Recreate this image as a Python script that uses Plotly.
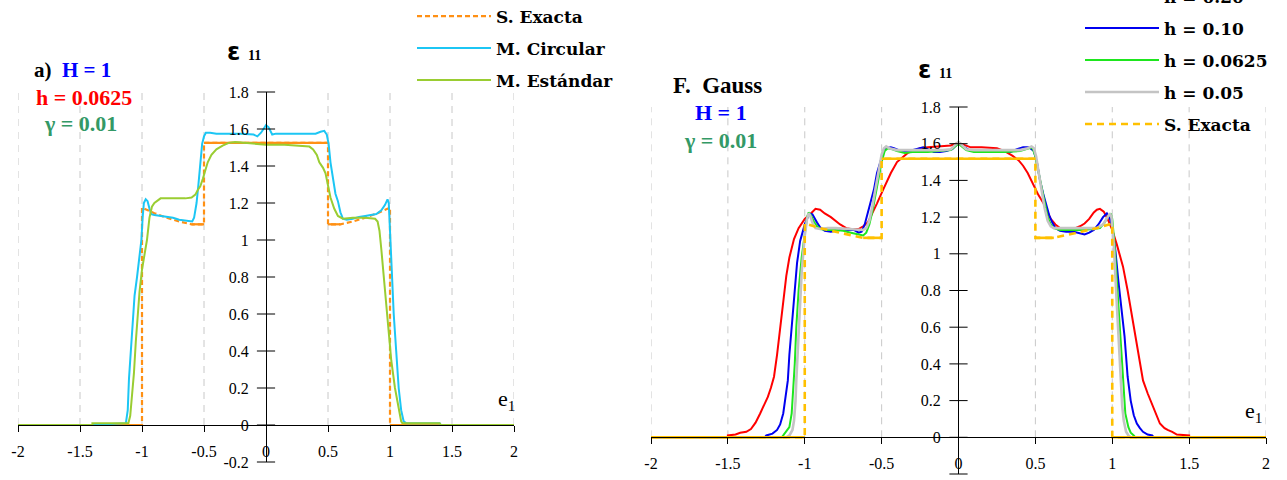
import plotly.graph_objects as go

# ---------------- data: panel a) (left) ----------------
exact_a_x = [-2, -1, -1, -0.9, -0.8, -0.7, -0.6, -0.5, -0.5, 0.5, 0.5, 0.6, 0.7, 0.8, 0.9, 1, 1, 2]
exact_a_y = [0, 0, 1.175, 1.145, 1.12, 1.10, 1.085, 1.085, 1.525, 1.525, 1.085, 1.085, 1.10, 1.12, 1.145, 1.175, 0, 0]

circ_x = [-2, -1.4, -1.13, -1.115, -1.105, -1.09, -1.075, -1.06, -1.04, -1.02, -1.005, -0.995, -0.985, -0.97,
          -0.955, -0.94, -0.925, -0.9, -0.85, -0.8, -0.75, -0.7, -0.65, -0.62, -0.595, -0.58, -0.56, -0.545,
          -0.53, -0.515, -0.5, -0.485, -0.45, -0.4, -0.3, -0.2, -0.1, -0.07, -0.04, -0.01, 0.0, 0.02, 0.05,
          0.08, 0.2, 0.3, 0.4, 0.44, 0.47, 0.49, 0.505, 0.52, 0.54, 0.56, 0.58, 0.6, 0.62, 0.65, 0.7, 0.75,
          0.8, 0.85, 0.89, 0.93, 0.96, 0.98, 0.99, 1.0, 1.015, 1.03, 1.05, 1.07, 1.09, 1.11, 1.13, 1.4, 1.41, 2]
circ_y = [0, 0, 0.01, 0.08, 0.25, 0.4, 0.55, 0.7, 0.8, 0.9, 1.0, 1.12, 1.2, 1.22,
          1.21, 1.17, 1.14, 1.135, 1.13, 1.125, 1.12, 1.11, 1.105, 1.10, 1.10, 1.12, 1.2, 1.3,
          1.42, 1.52, 1.56, 1.58, 1.58, 1.575, 1.575, 1.575, 1.57, 1.56, 1.58, 1.615, 1.62, 1.61, 1.57,
          1.575, 1.575, 1.575, 1.575, 1.585, 1.59, 1.57, 1.52, 1.42, 1.32, 1.25, 1.21, 1.15, 1.115, 1.11, 1.115, 1.125,
          1.13, 1.135, 1.14, 1.16, 1.19, 1.22, 1.2, 1.05, 0.8, 0.6, 0.4, 0.2, 0.08, 0.02, 0.01, 0.01, 0, 0]

std_x = [-2, -1.4, -1.4, -1.11, -1.095, -1.08, -1.065, -1.05, -1.035, -1.02, -1.0, -0.98, -0.96, -0.94, -0.92,
         -0.9, -0.87, -0.85, -0.75, -0.65, -0.6, -0.57, -0.55, -0.53, -0.51, -0.49, -0.47, -0.44, -0.4, -0.35,
         -0.3, -0.25, -0.15, 0, 0.15, 0.3, 0.35, 0.38, 0.41, 0.43, 0.46, 0.48, 0.5, 0.52, 0.55, 0.58, 0.62,
         0.7, 0.8, 0.88, 0.9, 0.915, 0.93, 0.95, 0.97, 0.99, 1.01, 1.04, 1.07, 1.09, 1.1, 1.4, 1.41, 2]
std_y = [0, 0, 0.01, 0.01, 0.05, 0.15, 0.28, 0.45, 0.6, 0.72, 0.84, 0.92, 1.0, 1.12, 1.18,
         1.2, 1.215, 1.225, 1.225, 1.225, 1.23, 1.245, 1.27, 1.29, 1.33, 1.37, 1.42, 1.46, 1.49, 1.51,
         1.525, 1.53, 1.525, 1.515, 1.515, 1.51, 1.505, 1.49, 1.46, 1.42, 1.39, 1.36, 1.3, 1.23, 1.17, 1.13, 1.115,
         1.12, 1.12, 1.115, 1.1, 1.05, 0.95, 0.8, 0.65, 0.5, 0.35, 0.2, 0.08, 0.02, 0.01, 0.01, 0, 0]

# ---------------- data: panel F. Gauss (right) ----------------
exact_b_x = [-2, -1, -1, -0.9, -0.8, -0.7, -0.62, -0.5, -0.5, 0.5, 0.5, 0.62, 0.7, 0.8, 0.9, 1, 1, 2]
exact_b_y = [0, 0, 1.165, 1.14, 1.12, 1.10, 1.087, 1.087, 1.518, 1.518, 1.087, 1.087, 1.10, 1.12, 1.14, 1.165, 0, 0]

h020_x = [-2, -1.5, -1.5, -1.45, -1.42, -1.38, -1.35, -1.32, -1.29, -1.26, -1.24, -1.22, -1.2, -1.18, -1.16,
          -1.14, -1.12, -1.1, -1.07, -1.04, -1.0, -0.96, -0.93, -0.9, -0.87, -0.83, -0.8, -0.77, -0.73, -0.7,
          -0.65, -0.62, -0.59, -0.56, -0.53, -0.49, -0.46, -0.44, -0.4, -0.36, -0.33, -0.28, -0.25, -0.2, -0.1,
          -0.05, 0, 0.05, 0.08, 0.15, 0.25, 0.3, 0.35, 0.39, 0.42, 0.45, 0.49, 0.52, 0.55, 0.58, 0.6, 0.63,
          0.66, 0.7, 0.73, 0.76, 0.79, 0.82, 0.85, 0.88, 0.9, 0.92, 0.945, 0.97, 1.0, 1.03, 1.05, 1.07, 1.1,
          1.14, 1.17, 1.2, 1.23, 1.25, 1.28, 1.31, 1.34, 1.36, 1.39, 1.42, 1.5, 1.5, 2]
h020_y = [0, 0, 0.01, 0.015, 0.025, 0.03, 0.045, 0.08, 0.13, 0.18, 0.22, 0.27, 0.33, 0.45, 0.6,
          0.75, 0.88, 0.98, 1.08, 1.14, 1.19, 1.22, 1.245, 1.24, 1.22, 1.2, 1.18, 1.16, 1.14, 1.135,
          1.135, 1.15, 1.17, 1.22, 1.275, 1.35, 1.41, 1.44, 1.5, 1.53, 1.55, 1.565, 1.575, 1.58, 1.585,
          1.59, 1.605, 1.59, 1.58, 1.58, 1.575, 1.56, 1.535, 1.51, 1.48, 1.44, 1.37, 1.32, 1.28, 1.22, 1.19, 1.16,
          1.14, 1.135, 1.135, 1.14, 1.15, 1.165, 1.19, 1.225, 1.24, 1.245, 1.23, 1.19, 1.13, 1.05, 0.99, 0.93, 0.8,
          0.6, 0.45, 0.31, 0.24, 0.2, 0.13, 0.075, 0.05, 0.04, 0.03, 0.015, 0.01, 0, 0]

h010_x = [-2, -1.26, -1.25, -1.21, -1.18, -1.16, -1.14, -1.125, -1.11, -1.1, -1.085, -1.07, -1.05, -1.03, -1.0,
          -0.97, -0.95, -0.92, -0.9, -0.87, -0.83, -0.8, -0.77, -0.72, -0.68, -0.65, -0.63, -0.61, -0.59, -0.57,
          -0.55, -0.53, -0.51, -0.49, -0.475, -0.44, -0.42, -0.39, -0.36, -0.32, -0.28, -0.23, -0.2, -0.16, -0.12,
          -0.08, -0.04, 0, 0.04, 0.08, 0.12, 0.16, 0.2, 0.25, 0.3, 0.34, 0.38, 0.42, 0.46, 0.49, 0.51, 0.53,
          0.55, 0.57, 0.59, 0.61, 0.63, 0.66, 0.7, 0.75, 0.79, 0.82, 0.85, 0.88, 0.91, 0.94, 0.965, 0.985, 1.0,
          1.02, 1.04, 1.06, 1.08, 1.1, 1.12, 1.14, 1.16, 1.18, 1.2, 1.23, 1.26, 1.27, 2]
h010_y = [0, 0, 0.01, 0.02, 0.04, 0.07, 0.13, 0.22, 0.31, 0.45, 0.6, 0.78, 0.95, 1.07, 1.16,
          1.22, 1.215, 1.17, 1.145, 1.125, 1.12, 1.125, 1.13, 1.13, 1.13, 1.115, 1.12, 1.16, 1.22, 1.29,
          1.35, 1.44, 1.5, 1.55, 1.575, 1.58, 1.575, 1.565, 1.555, 1.56, 1.57, 1.58, 1.57, 1.555, 1.555,
          1.56, 1.57, 1.605, 1.58, 1.56, 1.56, 1.565, 1.56, 1.555, 1.56, 1.555, 1.57, 1.58, 1.58, 1.56, 1.5, 1.4,
          1.33, 1.275, 1.21, 1.17, 1.14, 1.125, 1.12, 1.12, 1.11, 1.105, 1.115, 1.13, 1.16, 1.2, 1.22, 1.19, 1.145,
          1.02, 0.85, 0.7, 0.55, 0.33, 0.2, 0.12, 0.075, 0.05, 0.03, 0.015, 0.01, 0, 0]

h0625_x = [-2, -1.15, -1.14, -1.12, -1.1, -1.085, -1.075, -1.065, -1.055, -1.04, -1.02, -1.0, -0.985, -0.975,
           -0.96, -0.94, -0.92, -0.9, -0.85, -0.8, -0.75, -0.7, -0.65, -0.62, -0.6, -0.58, -0.56, -0.54, -0.52,
           -0.5, -0.48, -0.46, -0.43, -0.4, -0.35, -0.3, -0.2, -0.1, -0.05, 0, 0.05, 0.1, 0.2, 0.3, 0.4, 0.45,
           0.48, 0.5, 0.52, 0.54, 0.56, 0.58, 0.6, 0.62, 0.66, 0.7, 0.8, 0.88, 0.92, 0.95, 0.97, 0.99, 1.0,
           1.015, 1.03, 1.045, 1.06, 1.07, 1.085, 1.105, 1.12, 1.14, 1.15, 2]
h0625_y = [0, 0, 0.01, 0.03, 0.055, 0.13, 0.25, 0.4, 0.6, 0.8, 0.98, 1.12, 1.2, 1.225,
           1.21, 1.175, 1.15, 1.135, 1.13, 1.13, 1.125, 1.115, 1.105, 1.10, 1.115, 1.16, 1.23, 1.32, 1.41,
           1.5, 1.56, 1.575, 1.57, 1.56, 1.55, 1.555, 1.555, 1.56, 1.565, 1.6, 1.565, 1.555, 1.555, 1.555, 1.56, 1.57,
           1.58, 1.53, 1.45, 1.36, 1.27, 1.2, 1.16, 1.14, 1.13, 1.13, 1.13, 1.135, 1.14, 1.17, 1.2, 1.22, 1.19,
           1.05, 0.85, 0.62, 0.42, 0.31, 0.13, 0.055, 0.025, 0.01, 0, 0]

h005_x = [-2, -1.12, -1.1, -1.08, -1.07, -1.06, -1.055, -1.045, -1.035, -1.02, -1.0, -0.985, -0.975, -0.965,
          -0.95, -0.93, -0.9, -0.85, -0.8, -0.7, -0.65, -0.62, -0.6, -0.58, -0.56, -0.54, -0.52, -0.5, -0.485,
          -0.47, -0.45, -0.4, -0.3, -0.2, -0.1, -0.05, 0, 0.05, 0.1, 0.2, 0.3, 0.4, 0.45, 0.475, 0.49, 0.505,
          0.52, 0.54, 0.56, 0.58, 0.6, 0.62, 0.7, 0.8, 0.9, 0.94, 0.97, 0.985, 0.995, 1.01, 1.025, 1.04, 1.055,
          1.065, 1.075, 1.09, 1.105, 1.12, 2]
h005_y = [0, 0, 0.01, 0.04, 0.09, 0.2, 0.31, 0.5, 0.7, 0.9, 1.1, 1.19, 1.22, 1.21,
          1.17, 1.14, 1.135, 1.14, 1.14, 1.135, 1.13, 1.13, 1.14, 1.18, 1.26, 1.36, 1.46, 1.54, 1.575,
          1.585, 1.575, 1.565, 1.565, 1.565, 1.565, 1.57, 1.61, 1.57, 1.565, 1.565, 1.565, 1.565, 1.575, 1.585, 1.575, 1.53,
          1.45, 1.35, 1.25, 1.18, 1.15, 1.14, 1.14, 1.14, 1.14, 1.16, 1.2, 1.22, 1.2, 1.05, 0.8, 0.55, 0.31,
          0.17, 0.09, 0.03, 0.01, 0, 0]

# ---------------- axes ----------------
x_ticks = [-2, -1.5, -1, -0.5, 0, 0.5, 1, 1.5, 2]
x_tick_text = ["-2", "-1.5", "-1", "-0.5", "0", "0.5", "1", "1.5", "2"]
y_ticks = [-0.2, 0, 0.2, 0.4, 0.6, 0.8, 1, 1.2, 1.4, 1.6, 1.8]
y_tick_text = ["-0.2", "0", "0.2", "0.4", "0.6", "0.8", "1", "1.2", "1.4", "1.6", "1.8"]
grid_x = [-2, -1.5, -1, -0.5, 0.5, 1, 1.5, 2]

W, H = 1287, 480
SERIF = "Liberation Serif, Times New Roman, serif"
LEG_FONT = dict(family="DejaVu Serif", size=17, color="black", weight="bold")


def flat_parts(xs, ys):
    """Keep only the horizontal pieces of a step profile (None breaks elsewhere)."""
    ox, oy = [], []
    for i in range(len(xs) - 1):
        if ys[i] == ys[i + 1]:
            if ox and ox[-1] is not None and ox[-1] == xs[i] and oy[-1] == ys[i]:
                ox.append(xs[i + 1]); oy.append(ys[i + 1])
            else:
                if ox:
                    ox.append(None); oy.append(None)
                ox += [xs[i], xs[i + 1]]; oy += [ys[i], ys[i + 1]]
    return ox, oy


fig = go.Figure()


def add_curve(x, y, name, color, width, xa, ya, legend, dash="solid"):
    fig.add_trace(go.Scatter(x=x, y=y, name=name, mode="lines", xaxis=xa, yaxis=ya,
                             line=dict(color=color, width=width, dash=dash),
                             legend=legend, legendgroup=legend + name, hoverinfo="skip"))


def add_exact(x, y, color, width, xa, ya, legend, dash):
    add_curve(x, y, "S. Exacta", color, width, xa, ya, legend, dash=dash)
    fx, fy = flat_parts(x, y)
    fig.add_trace(go.Scatter(x=fx, y=fy, mode="lines", xaxis=xa, yaxis=ya, showlegend=False,
                             line=dict(color=color, width=width), connectgaps=False, legend=legend,
                             legendgroup=legend + "S. Exacta", hoverinfo="skip"))


# left panel
add_exact(exact_a_x, exact_a_y, "#FF9014", 2.2, "x", "y", "legend", "5px,3px")
add_curve(circ_x, circ_y, "M. Circular", "#1CC6F4", 2, "x", "y", "legend")
add_curve(std_x, std_y, "M. Estándar", "#9ACD32", 2, "x", "y", "legend")

# right panel
add_curve(h020_x, h020_y, "h = 0.20", "#FF0000", 2, "x2", "y2", "legend2")
add_curve(h010_x, h010_y, "h = 0.10", "#0000F0", 2, "x2", "y2", "legend2")
add_curve(h0625_x, h0625_y, "h = 0.0625", "#1EE61E", 2, "x2", "y2", "legend2")
add_curve(h005_x, h005_y, "h = 0.05", "#C4C4C4", 2.6, "x2", "y2", "legend2")
add_exact(exact_b_x, exact_b_y, "#FFC000", 2.6, "x2", "y2", "legend2", "7px,5px")

# crossing tick marks on the vertical axes
for xa, ya in (("x", "y"), ("x2", "y2")):
    fig.add_trace(go.Scatter(x=[0] * len(y_ticks), y=y_ticks, mode="markers", xaxis=xa, yaxis=ya,
                             marker=dict(symbol="line-ew", size=13, line=dict(color="black", width=1)),
                             showlegend=False, hoverinfo="skip", cliponaxis=False))

# dashed vertical grid lines, from the x axis up to the top value
for xr, yr in (("x", "y"), ("x2", "y2")):
    for gx in grid_x:
        fig.add_shape(type="line", xref=xr, yref=yr, x0=gx, x1=gx, y0=0, y1=1.8, layer="below",
                      line=dict(color="#C8C8C8", width=1, dash="7px,6px"))


def xaxis_cfg(px0, px1, ypos):
    return dict(domain=[px0 / W, px1 / W], range=[-2, 2], anchor="free", position=1 - ypos / H,
                showline=True, linecolor="black", linewidth=1, ticks="outside", ticklen=6,
                tickcolor="black", tickvals=x_ticks, ticktext=x_tick_text, showgrid=False,
                zeroline=False, tickfont=dict(family=SERIF, size=16, color="black"),
                ticklabelstandoff=6, fixedrange=True)


def yaxis_cfg(top, bottom, xpos):
    return dict(domain=[1 - bottom / H, 1 - top / H], range=[-0.2, 1.8], anchor="free",
                position=xpos / W, showline=True, linecolor="black", linewidth=1, ticks="",
                tickvals=y_ticks, ticktext=y_tick_text, showgrid=False, zeroline=False,
                tickfont=dict(family=SERIF, size=16, color="black"), ticklabelstandoff=14,
                fixedrange=True)


ann = []


def txt(x, y, text, size, color="black", family=SERIF, xanchor="center"):
    ann.append(dict(x=x / W, y=1 - y / H, xref="paper", yref="paper", text=text, showarrow=False,
                    xanchor=xanchor, yanchor="middle", font=dict(family=family, size=size, color=color)))


# panel labels
txt(32, 70, "<b>a)\u00a0\u00a0<span style='color:#0000FF'>H = 1</span></b>", 21, xanchor="left")
txt(84, 97, "<b>h = 0.0625</b>", 22, "#FF0000")
txt(80, 124, "<b>γ = 0.01</b>", 22, "#339966")
txt(717, 85, "<b>F.\u00a0\u00a0Gauss</b>", 23)
txt(721, 113, "<b>H = 1</b>", 22, "#0000FF")
txt(720, 140, "<b>γ = 0.01</b>", 22, "#339966")

# axis names
eps = ("<b>ε</b>\u00a0<span style='font-family:Liberation Serif;font-size:14px'><b>11</b></span>")
txt(244, 52, eps, 24, family="DejaVu Sans")
txt(935, 70, eps, 24, family="DejaVu Sans")
txt(506, 400, "e<sub>1</sub>", 22)
txt(1253, 412, "e<sub>1</sub>", 22)

fig.update_layout(
    width=W, height=H, margin=dict(l=0, r=0, t=0, b=0, autoexpand=False),
    paper_bgcolor="white", plot_bgcolor="white",
    xaxis=xaxis_cfg(18, 514, 425), yaxis=yaxis_cfg(92, 462, 266),
    xaxis2=xaxis_cfg(651, 1266, 437), yaxis2=yaxis_cfg(107, 474, 958),
    legend=dict(x=412 / W, y=1 + 1.5 / H, xanchor="left", yanchor="top", bgcolor="rgba(0,0,0,0)",
                font=LEG_FONT, itemwidth=74, tracegroupgap=6.9, traceorder="grouped"),
    legend2=dict(x=1080 / W, y=1 + 21.5 / H, xanchor="left", yanchor="top", bgcolor="rgba(0,0,0,0)",
                 font=LEG_FONT, itemwidth=74, tracegroupgap=6.9, traceorder="grouped"),
    annotations=ann, showlegend=True,
)

fig.write_html("out.html")
